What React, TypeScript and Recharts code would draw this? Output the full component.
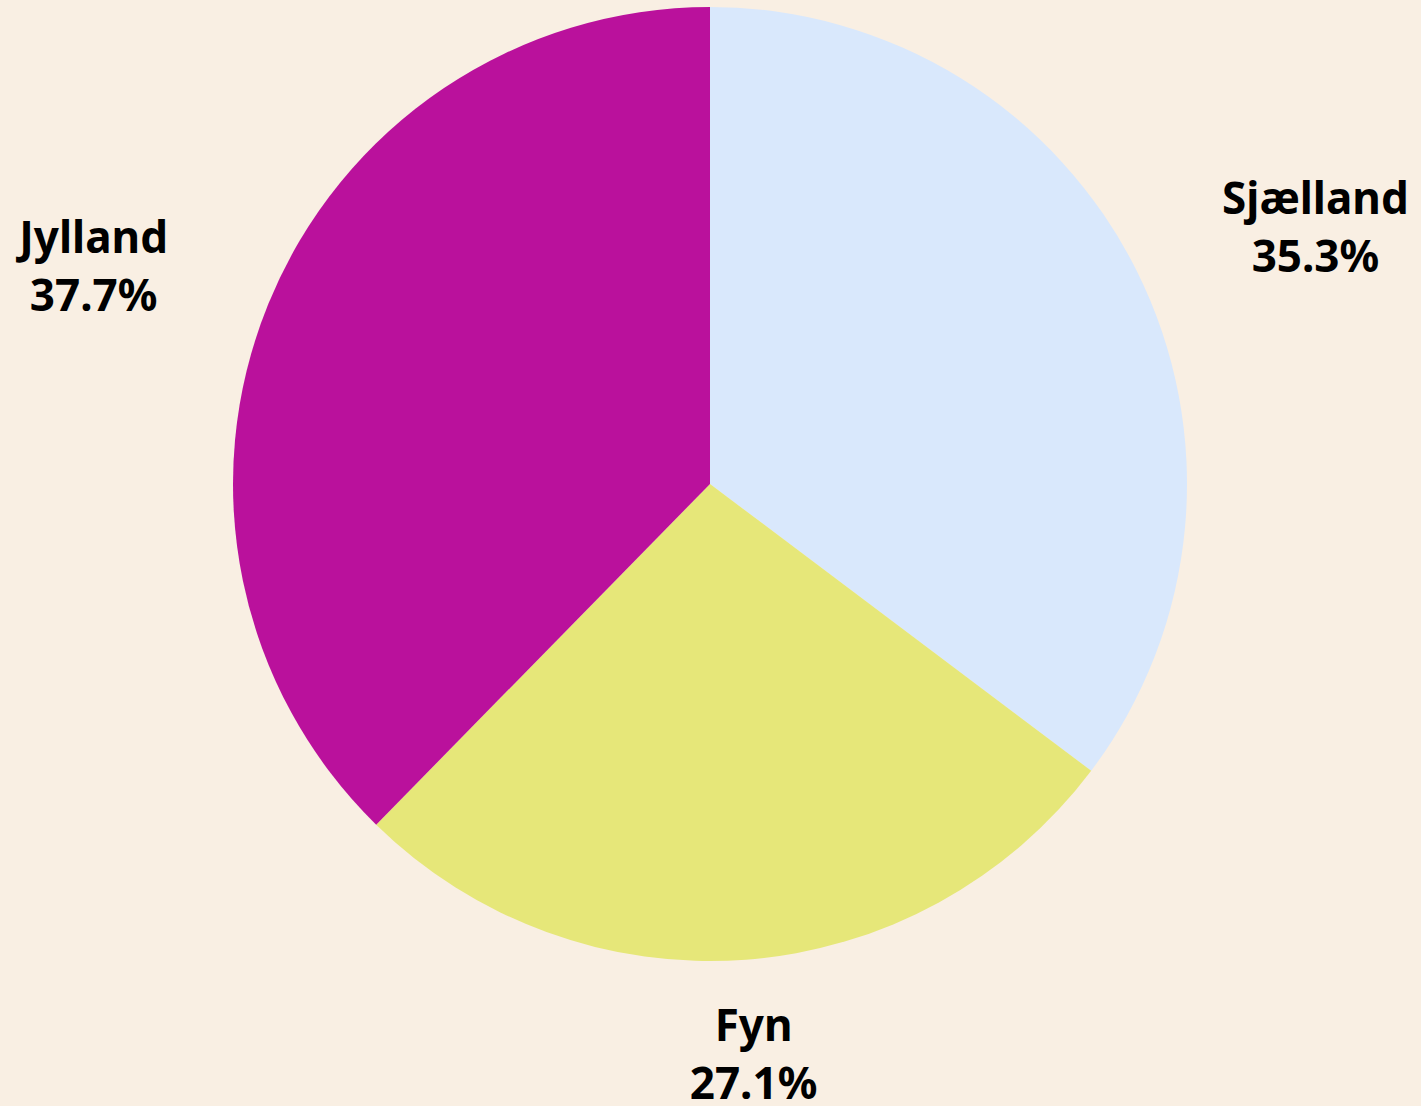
import { PieChart, Pie, Cell } from "recharts"

const regions = ["Sjælland", "Fyn", "Jylland"]
const shares = [35.3, 27.1, 37.7]
const colors = ["#d9e8fc", "#e6e779", "#ba119c"]

const data = regions.map((name, i) => ({ name, value: shares[i] }))

const FONT = "bold 44px 'Noto Sans'"
const RAD = Math.PI / 180
const LINE_GAP = 58

function textWidth(s: string) {
  const ctx = document.createElement("canvas").getContext("2d")
  if (!ctx) return s.length * 24
  ctx.font = FONT
  return ctx.measureText(s).width
}

function renderLabel(props: any) {
  const { cx, cy, midAngle, outerRadius, index } = props
  const r = outerRadius + 102
  const cos = Math.cos(-midAngle * RAD)
  const sin = Math.sin(-midAngle * RAD)
  const x = cx + r * cos
  const y = cy + r * sin
  const line1 = regions[index]
  const line2 = `${shares[index].toFixed(1)}%`
  const w = Math.max(textWidth(line1), textWidth(line2))
  let tx = x
  if (cos > 0.2) tx = x - 6 + w / 2
  else if (cos < -0.2) tx = x - 6 - w / 2
  // vertical centre of the two-line block, nudged up a bit below the pie
  const mid = y + 15 - 6 * sin
  return (
    <text
      x={tx}
      y={mid}
      textAnchor="middle"
      fill="#000"
      style={{ font: FONT }}
    >
      <tspan x={tx} y={mid - LINE_GAP / 2}>{line1}</tspan>
      <tspan x={tx} y={mid + LINE_GAP / 2}>{line2}</tspan>
    </text>
  )
}

export default function App() {
  return (
    <div style={{ width: 1421, height: 1106, background: "#f9efe3" }}>
      <style>{`body{margin:0}`}</style>
      <PieChart width={1421} height={1106} margin={{ top: 0, right: 0, bottom: 0, left: 0 }}>
        <Pie
          data={data}
          dataKey="value"
          nameKey="name"
          cx={710}
          cy={484}
          outerRadius={477}
          startAngle={90}
          endAngle={-270}
          stroke="none"
          labelLine={false}
          label={renderLabel}
          isAnimationActive={false}
        >
          {data.map((d, i) => (
            <Cell key={d.name} fill={colors[i]} />
          ))}
        </Pie>
      </PieChart>
    </div>
  )
}
